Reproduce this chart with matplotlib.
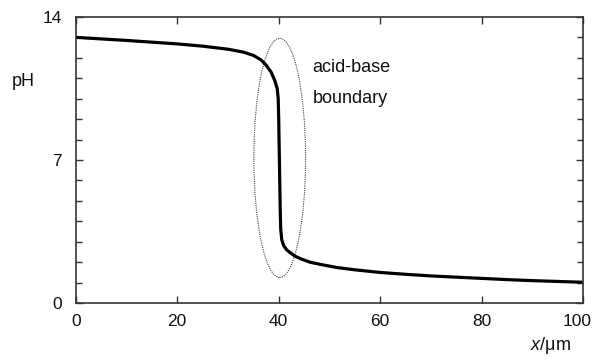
import matplotlib
matplotlib.use("Agg")
import matplotlib.pyplot as plt
from matplotlib.patches import Ellipse
from matplotlib.ticker import MultipleLocator
from matplotlib.transforms import ScaledTranslation

plt.rcParams['font.family'] = ['Liberation Sans', 'DejaVu Sans']
plt.rcParams['mathtext.fontset'] = 'custom'
plt.rcParams['mathtext.it'] = 'Liberation Sans:italic'
plt.rcParams['mathtext.rm'] = 'Liberation Sans'

# data
x_um = [0, 10, 20, 25, 30, 33, 35, 36.5, 37.5, 38.5, 39.2, 39.7, 39.9, 40.0,
        40.1, 40.2, 40.3, 40.4, 40.6, 41.0, 41.6, 42.2, 43.2, 44.5, 46.2, 48.5,
        51.5, 55, 60, 65, 70, 75, 80, 85, 90, 95, 100]
pH = [13.0, 12.85, 12.68, 12.57, 12.42, 12.28, 12.12, 11.9, 11.65, 11.3, 10.9,
      10.5, 10.0, 9.0, 7.5, 6.0, 4.5, 3.6, 3.1, 2.8, 2.6, 2.48, 2.3, 2.15, 2.0,
      1.88, 1.74, 1.63, 1.5, 1.41, 1.33, 1.27, 1.21, 1.15, 1.1, 1.06, 1.02]
x_ticks = [0, 20, 40, 60, 80, 100]
y_ticks = [0, 7, 14]
ellipse_center = (40.2, 7.1)
ellipse_size = (10.2, 11.7)
note_lines = ["acid-base", "boundary"]

fig = plt.figure(figsize=(5.92, 3.6), dpi=100)
ax = fig.add_axes([0.128, 0.158, 0.857, 0.795])
ax.plot(x_um, pH, color='black', lw=2.3, solid_capstyle='round',
        solid_joinstyle='round')
ax.add_patch(Ellipse(ellipse_center, ellipse_size[0], ellipse_size[1],
                     fill=False, ls=(0, (1, 1)), lw=0.8, edgecolor='#444444'))
ax.set_xlim(0, 100)
ax.set_ylim(0, 14)
ax.set_xticks(x_ticks)
ax.set_yticks(y_ticks)
ax.yaxis.set_minor_locator(MultipleLocator(1))
ax.tick_params(which='both', direction='in', top=True, right=True,
               colors='#333333', labelcolor='#111111', labelsize=12.5, width=1)
ax.tick_params(which='major', length=5)
ax.tick_params(which='minor', length=4)
ax.tick_params(axis='y', pad=10)
ax.tick_params(axis='x', pad=8)
for s in ax.spines.values():
    s.set_color('#333333')
    s.set_linewidth(1.2)

# shift the last x tick label left so it stays inside the figure
fig.canvas.draw()
last = ax.get_xticklabels()[-1]
last.set_transform(last.get_transform() + ScaledTranslation(-6 / 100, 0, fig.dpi_scale_trans))

ax.text(46.7, 11.55, note_lines[0], fontsize=13, va='center', ha='left', color='#111111')
ax.text(46.7, 10.0, note_lines[1], fontsize=13, va='center', ha='left', color='#111111')
fig.text(12 / 592, 1 - 81 / 360, "pH", fontsize=13, va='center', ha='left', color='#111111')
fig.text(550 / 592, 1 - 345 / 360, r"$x$/μm", fontsize=13,
         va='center', ha='center', color='#111111')

fig.savefig("out.png", dpi=100)
